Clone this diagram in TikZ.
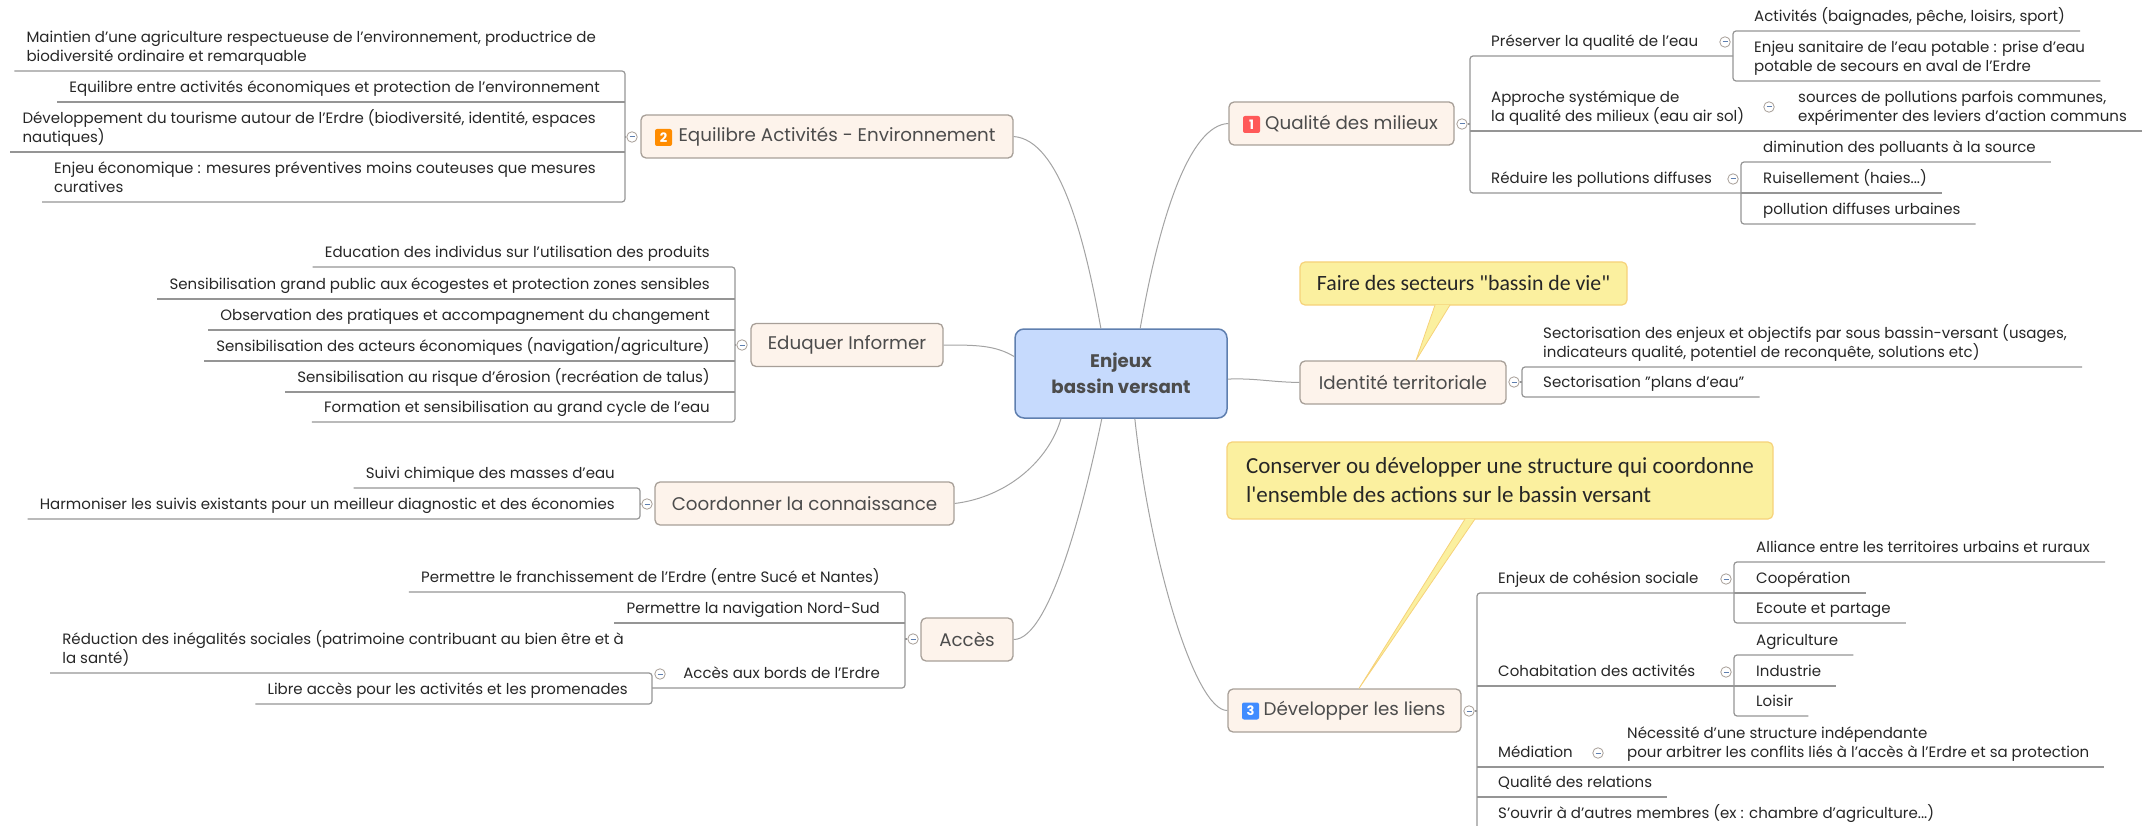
\documentclass[tikz,border=0pt]{standalone}
\usepackage{fontspec}
\setmainfont{Poppins}
\newfontfamily\calloutfont{Carlito}
\usetikzlibrary{positioning}

\definecolor{twigGray}{HTML}{959595}
\definecolor{linkGray}{HTML}{A3A3A3}
\definecolor{boxFill}{HTML}{FDF3EB}
\definecolor{boxLine}{HTML}{A79F98}
\definecolor{centreFill}{HTML}{C6DAFD}
\definecolor{centreLine}{HTML}{5F7FAF}
\definecolor{noteFill}{HTML}{FBF09F}
\definecolor{noteLine}{HTML}{F6D27A}
\newcommand{\foldbar}{\rule{5pt}{1pt}}

\begin{document}
\begin{tikzpicture}[%
    x=1pt,
    y=-1pt,
    centre/.style={%
        draw=centreLine,
        fill=centreFill,
        line width=1.5pt,
        rounded corners=9pt,
        align=center,
        text=black!70,
        font=\fontsize{18.2}{26}\selectfont\bfseries,
        minimum width=212pt,
        minimum height=89pt
    },
    branch/.style={%
        draw=boxLine,
        fill=boxFill,
        line width=1.3pt,
        rounded corners=5pt,
        text=black!70,
        font=\fontsize{18.3}{22}\selectfont,
        minimum height=43pt
    },
    badge/.style={%
        rounded corners=2pt,
        text=white,
        inner sep=0pt,
        minimum size=17pt,
        font=\fontsize{13}{13}\selectfont\bfseries
    },
    note/.style={%
        draw=noteLine,
        fill=noteFill,
        line width=1.2pt,
        rounded corners=5pt,
        align=left,
        text=black!85,
        font=\calloutfont\fontsize{21.8}{28}\selectfont,
        minimum height=43pt
    },
    tail/.style={%
        draw=noteLine,
        fill=noteFill,
        line width=0.8pt,
        line join=round
    },
    leaf/.style={%
        align=left,
        text=black!85,
        inner ysep=4pt,
        font=\fontsize{15}{19}\selectfont,
        execute at begin node=\strut,
        execute at end node=\strut
    },
    leafE/.style={%
        leaf,
        anchor=south west,
        inner xsep=15pt
    },
    leafW/.style={%
        leaf,
        anchor=south east,
        inner xsep=12pt
    },
    fold/.style={%
        draw=boxLine,
        fill=white,
        circle,
        inner sep=0pt,
        minimum size=10.5pt,
        line width=0.8pt,
        text=centreLine
    },
    twig/.style={%
        draw=twigGray,
        line width=1.2pt,
        rounded corners=3pt
    },
    link/.style={%
        draw=linkGray,
        line width=1pt
    }
]

\useasboundingbox (0,0) rectangle (2149,826);

% Centre
    \node[centre] (enjeux) at (1121,373.5) {Enjeux\\bassin versant};

% Branches
    \node[branch, minimum width=372pt] (equilibre) at (827,136.5) {\hspace*{20pt}Equilibre Activités - Environnement};
    \node[branch, minimum width=192pt] (eduquer) at (847,345) {Eduquer Informer};
    \node[branch, minimum width=299pt] (coordonner) at (804.5,503.5) {Coordonner la connaissance};
    \node[branch, minimum width=92pt] (acces) at (967,639.5) {Accès};
    \node[branch, minimum width=225pt] (qualite) at (1341.5,123.5) {\hspace*{20pt}Qualité des milieux};
    \node[branch, minimum width=206pt] (identite) at (1403,382.5) {Identité territoriale};
    \node[branch, minimum width=233pt] (liens) at (1344.5,710.5) {\hspace*{20pt}Développer les liens};

% Badges
    \node[badge, fill=orange!90!yellow] (badge2) at (663.5,137.5) {2};
    \node[badge, fill=red!65!white] (badge1) at (1251.5,124.5) {1};
    \node[badge, fill=blue!60!cyan!75!white] (badge3) at (1250.5,711) {3};

% Notes
    \node[note, minimum width=327pt] (noteVie) at (1463.5,283.5) {Faire des secteurs "bassin de vie"};
    \node[note, minimum width=546pt, minimum height=77pt, font=\calloutfont\fontsize{23}{29}\selectfont] (noteLiens) at (1500,480.5) {Conserver ou développer une structure qui coordonne\\l'ensemble des actions sur le bassin versant};
    \coordinate (tailVieA) at (1435,305);
    \coordinate (tailVieB) at (1450,305);
    \coordinate (tailLiensA) at (1465,519);
    \coordinate (tailLiensB) at (1475,519);

% Equilibre leaves
    \node[leafW] (maintien) at (608,71) {Maintien d'une agriculture respectueuse de l'environnement, productrice de\\biodiversité ordinaire et remarquable};
    \node[leafW] (balance) at (612,102) {Equilibre entre activités économiques et protection de l'environnement};
    \node[leafW] (tourisme) at (608,152) {Développement du tourisme autour de l'Erdre (biodiversité, identité, espaces\\nautiques)};
    \node[leafW] (mesures) at (608,202) {Enjeu économique : mesures préventives moins couteuses que mesures\\curatives};
    \coordinate (trunkEqui) at (625,137);
    \node[fold] (foldEqui) at (632,137) {\foldbar};

% Eduquer leaves
    \node[leafW] (produits) at (722,267) {Education des individus sur l'utilisation des produits};
    \node[leafW] (ecogestes) at (722,299) {Sensibilisation grand public aux écogestes et protection zones sensibles};
    \node[leafW] (pratiques) at (722,330) {Observation des pratiques et accompagnement du changement};
    \node[leafW] (acteurs) at (722,361) {Sensibilisation des acteurs économiques (navigation/agriculture)};
    \node[leafW] (erosion) at (722,392) {Sensibilisation au risque d'érosion (recréation de talus)};
    \node[leafW] (cycle) at (722,422) {Formation et sensibilisation au grand cycle de l'eau};
    \coordinate (trunkEduq) at (735,345);
    \node[fold] (foldEduq) at (742,345) {\foldbar};

% Coordonner leaves
    \node[leafW] (suivi) at (627,488) {Suivi chimique des masses d'eau};
    \node[leafW] (harmo) at (627,519) {Harmoniser les suivis existants pour un meilleur diagnostic et des économies};
    \coordinate (trunkCoor) at (640,504);
    \node[fold] (foldCoor) at (647,504) {\foldbar};

% Acces leaves
    \node[leafW] (franchir) at (892,592) {Permettre le franchissement de l'Erdre (entre Sucé et Nantes)};
    \node[leafW] (navig) at (892,623) {Permettre la navigation Nord-Sud};
    \node[leafW] (bords) at (892,688) {Accès aux bords de l'Erdre};
    \node[leafW] (inegal) at (636,673) {Réduction des inégalités sociales (patrimoine contribuant au bien être et à\\la santé)};
    \node[leafW] (libre) at (640,704) {Libre accès pour les activités et les promenades};
    \coordinate (trunkAcce) at (905,639);
    \coordinate (trunkBord) at (652,688);
    \node[fold] (foldAcce) at (913,639) {\foldbar};
    \node[fold] (foldBord) at (660,674) {\foldbar};

% Qualite leaves
    \node[leafE] (preserver) at (1476,56) {Préserver la qualité de l'eau};
    \node[leafE] (approche) at (1476,131) {Approche systémique de\\la qualité des milieux (eau air sol)};
    \node[leafE] (reduire) at (1476,193) {Réduire les pollutions diffuses};
    \coordinate (trunkQual) at (1470,124);
    \node[fold] (foldQual) at (1462,124) {\foldbar};
    \node[leafE] (activites) at (1739,31) {Activités (baignades, pêche, loisirs, sport)};
    \node[leafE] (potable) at (1739,81) {Enjeu sanitaire de l'eau potable : prise d'eau\\potable de secours en aval de l'Erdre};
    \coordinate (trunkPres) at (1733,56);
    \node[fold] (foldPres) at (1725,42) {\foldbar};
    \node[leafE] (sources) at (1783,131) {sources de pollutions parfois communes,\\expérimenter des leviers d'action communs};
    \node[fold] (foldAppr) at (1769,107) {\foldbar};
    \node[leafE] (diminue) at (1748,162) {diminution des polluants à la source};
    \node[leafE] (ruisse) at (1748,193) {Ruisellement (haies...)};
    \node[leafE] (urbaines) at (1748,224) {pollution diffuses urbaines};
    \coordinate (trunkRedu) at (1741,193);
    \node[fold] (foldRedu) at (1733,179) {\foldbar};

% Identite leaves
    \node[leafE] (secteurs) at (1528,367) {Sectorisation des enjeux et objectifs par sous bassin-versant (usages,\\indicateurs qualité, potentiel de reconquête, solutions etc)};
    \node[leafE] (plans) at (1528,397) {Sectorisation "plans d'eau"};
    \coordinate (trunkIden) at (1522,382);
    \node[fold] (foldIden) at (1514,382) {\foldbar};

% Developper leaves
    \node[leafE] (cohesion) at (1483,593) {Enjeux de cohésion sociale};
    \node[leafE] (cohabit) at (1483,686) {Cohabitation des activités};
    \node[leafE] (mediation) at (1483,767) {Médiation};
    \node[leafE] (relations) at (1483,797) {Qualité des relations};
    \node[leafE] (ouvrir) at (1483,828) {S'ouvrir à d'autres membres (ex : chambre d'agriculture...)};
    \coordinate (trunkLien) at (1477,711);
    \coordinate (trunkEnd) at (1477,826);
    \node[fold] (foldLien) at (1469,711) {\foldbar};
    \node[leafE] (alliance) at (1741,562) {Alliance entre les territoires urbains et ruraux};
    \node[leafE] (cooper) at (1741,593) {Coopération};
    \node[leafE] (ecoute) at (1741,623) {Ecoute et partage};
    \coordinate (trunkCohe) at (1734,593);
    \node[fold] (foldCohe) at (1726,579) {\foldbar};
    \node[leafE] (agri) at (1741,655) {Agriculture};
    \node[leafE] (indus) at (1741,686) {Industrie};
    \node[leafE] (loisir) at (1741,716) {Loisir};
    \coordinate (trunkCoha) at (1734,686);
    \node[fold] (foldCoha) at (1726,672) {\foldbar};
    \node[leafE] (necess) at (1612,767) {Nécessité d'une structure indépendante\\pour arbitrer les conflits liés à l'accès à l'Erdre et sa protection};
    \node[fold] (foldMedi) at (1598,753) {\foldbar};

% Curves to the centre
\draw[link] (equilibre.east) .. controls (1060,140) and (1085,240) .. (enjeux.114);
\draw[link] (eduquer.east) .. controls (975,345) and (995,345) .. (enjeux.171);
\draw[link] (coordonner.east) .. controls (1008,497) and (1049,460) .. (enjeux.217);
\draw[link] (acces.east) .. controls (1050,640) and (1085,500) .. (enjeux.247);
\draw[link] (qualite.west) .. controls (1190,125) and (1160,215) .. (enjeux.67);
\draw[link] (identite.west) .. controls (1270,382) and (1255,378) .. (enjeux.-3);
\draw[link] (liens.west) .. controls (1195,711) and (1150,560) .. (enjeux.287);

% Note tails
\draw[tail] (tailVieA) -- (identite.north -| 1416,0) -- (tailVieB);
\draw[tail] (tailLiensA) -- (liens.north -| 1359,0) -- (tailLiensB);

% Equilibre
\draw[twig] (maintien.south west) -- (maintien.south west -| trunkEqui) -- (mesures.south -| trunkEqui) -- (mesures.south west);
\draw[twig] (trunkEqui |- balance.south) -- (balance.south west);
\draw[twig] (trunkEqui |- tourisme.south) -- (tourisme.south west);
\draw[twig] (foldEqui) -- (trunkEqui);

% Eduquer
\draw[twig] (produits.south west) -- (produits.south -| trunkEduq) -- (cycle.south -| trunkEduq) -- (cycle.south west);
\draw[twig] (trunkEduq |- ecogestes.south) -- (ecogestes.south west);
\draw[twig] (trunkEduq |- pratiques.south) -- (pratiques.south west);
\draw[twig] (trunkEduq |- acteurs.south) -- (acteurs.south west);
\draw[twig] (trunkEduq |- erosion.south) -- (erosion.south west);
\draw[twig] (foldEduq) -- (trunkEduq);

% Coordonner
\draw[twig] (suivi.south west) -- (suivi.south -| trunkCoor) -- (harmo.south -| trunkCoor) -- (harmo.south west);
\draw[twig] (foldCoor) -- (trunkCoor);

% Acces
\draw[twig] (franchir.south west) -- (franchir.south -| trunkAcce) -- (bords.south -| trunkAcce) -- (trunkBord);
\draw[twig] (trunkAcce |- navig.south) -- (navig.south west);
\draw[twig] (inegal.south west) -- (inegal.south -| trunkBord) -- (libre.south -| trunkBord) -- (libre.south west);
\draw[twig] (foldAcce) -- (trunkAcce);

% Qualite
\draw[twig] (trunkPres) -- (trunkQual |- trunkPres) -- (trunkQual |- trunkRedu) -- (trunkRedu);
\draw[twig] (trunkQual |- sources.south) -- (sources.south east);
\draw[twig] (foldQual) -- (trunkQual);
\draw[twig] (activites.south east) -- (activites.south -| trunkPres) -- (potable.south -| trunkPres) -- (potable.south east);
\draw[twig] (diminue.south east) -- (diminue.south -| trunkRedu) -- (urbaines.south -| trunkRedu) -- (urbaines.south east);
\draw[twig] (trunkRedu) -- (ruisse.south east);

% Identite
\draw[twig] (secteurs.south east) -- (secteurs.south -| trunkIden) -- (plans.south -| trunkIden) -- (plans.south east);
\draw[twig] (foldIden) -- (trunkIden);

% Developper
\draw[twig] (trunkCohe) -- (trunkLien |- trunkCohe) -- (trunkEnd);
\draw[twig] (foldLien) -- (trunkLien);
\draw[twig] (trunkLien |- trunkCoha) -- (trunkCoha);
\draw[twig] (trunkLien |- necess.south) -- (necess.south east);
\draw[twig] (trunkLien |- relations.south) -- (relations.south east);
\draw[twig] (alliance.south east) -- (alliance.south -| trunkCohe) -- (ecoute.south -| trunkCohe) -- (ecoute.south east);
\draw[twig] (trunkCohe) -- (cooper.south east);
\draw[twig] (agri.south east) -- (agri.south -| trunkCoha) -- (loisir.south -| trunkCoha) -- (loisir.south east);
\draw[twig] (trunkCoha) -- (indus.south east);

\end{tikzpicture}
\end{document}
